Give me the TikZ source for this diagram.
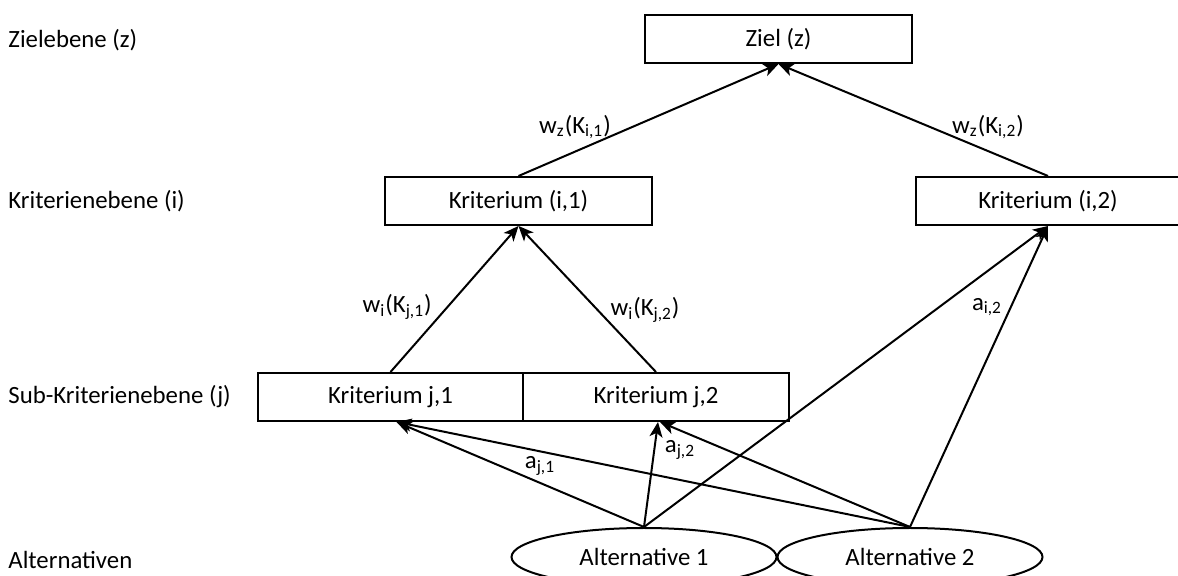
\documentclass[tikz,border=0pt]{standalone}
\usepackage{fontspec}
\setmainfont{Carlito}
\usetikzlibrary{arrows.meta,shapes.geometric}
\tikzset{
  critbox/.style={draw, line width=1pt, minimum width=133.5pt, minimum height=24pt, inner sep=0pt},
  altnode/.style={draw, ellipse, line width=1pt, minimum width=132.5pt, minimum height=29pt, inner sep=0pt},
  link/.style={line width=1pt, -{Stealth[length=7.5pt,width=6.5pt,inset=2pt]}},
  levellabel/.style={anchor=west, inner sep=0pt},
  weight/.style={inner sep=0pt},
}
\begin{document}
\begin{tikzpicture}[x=0.5pt,y=-0.5pt,font=\fontsize{12.4}{15}\selectfont]
    \useasboundingbox (0,0) rectangle (1178,576);
    \clip (0,0) rectangle (1178,576);

    % levels
    \node[levellabel] (lz) at (8,40)  {Zielebene (z)};
    \node[levellabel] (li) at (8,201) {Kriterienebene (i)};
    \node[levellabel] (lj) at (8,397) {Sub-Kriterienebene (j)};
    \node[levellabel] (la) at (8,560) {Alternativen};

    % boxes
    \node[critbox] (ziel) at (778.5,39) {Ziel (z)};
    \node[critbox] (ki1) at (518.5,201) {Kriterium (i,1)};
    \node[critbox, minimum width=132pt] (ki2) at (1048,201) {Kriterium (i,2)};
    \node[critbox, minimum width=132.5pt] (kj1) at (390.5,397) {Kriterium j,1};
    \node[critbox, minimum width=133pt] (kj2) at (656,397) {Kriterium j,2};

    \node[altnode] (alt1) at (644,557) {Alternative 1};
    \node[altnode] (alt2) at (910,557) {Alternative 2};

    % connectors
    \draw[link] (ki1.north) -- (ziel.south);
    \draw[link] (ki2.north) -- (ziel.south);
    \draw[link] (kj1.north) -- (ki1.south);
    \draw[link] (kj2.north) -- (ki1.south);

    \draw[link] (alt1.north) -- ([xshift=3pt]kj1.south);
    \draw[link] (alt1.north) -- ([xshift=1pt]kj2.south);
    \draw[link] (alt1.north) -- (ki2.south);
    \draw[link] (alt2.north) -- ([xshift=3pt]kj1.south);
    \draw[link] (alt2.north) -- ([xshift=2pt]kj2.south);
    \draw[link] (alt2.north) -- (ki2.south);

    % weights
    \node[weight] (wz1) at (575,127) {w\textsubscript{z}(K\textsubscript{i,1})};
    \node[weight] (wz2) at (988,127) {w\textsubscript{z}(K\textsubscript{i,2})};
    \node[weight, anchor=east] (wi1) at (432,307) {w\textsubscript{i}(K\textsubscript{j,1})};
    \node[weight] (wi2) at (645,310) {w\textsubscript{i}(K\textsubscript{j,2})};
    \node[weight] (aj1) at (540,466) {a\textsubscript{j,1}};
    \node[weight] (aj2) at (680,450) {a\textsubscript{j,2}};
    \node[weight] (ai2) at (987,307) {a\textsubscript{i,2}};
\end{tikzpicture}
\end{document}
